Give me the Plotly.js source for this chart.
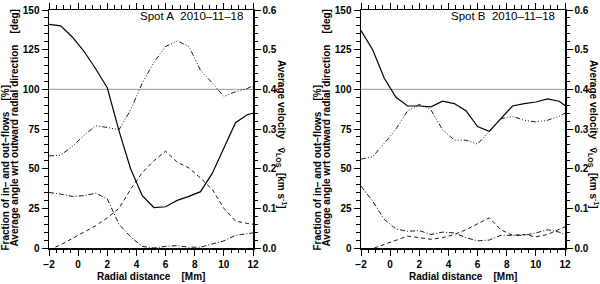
<!DOCTYPE html>
<html>
<head>
<meta charset="utf-8">
<script src="https://cdn.plot.ly/plotly-3.0.1.min.js"></script>
<style>html,body{margin:0;padding:0;background:#fff;}#chart{width:600px;height:284px;}</style>
</head>
<body>
<div id="chart"></div>
<script>
// Radial distance [Mm] sample positions
const radialDistance = [-2, -1.2, -0.4, 0.4, 1.2, 2.0, 2.8, 3.6, 4.4, 5.2, 6.0, 6.8, 7.6, 8.4, 9.2, 10.0, 10.8, 11.6, 12.4];

// Spot A
const angleA   = [141, 140, 133, 124, 113, 101, 74, 50, 33, 25.5, 26, 30, 32.5, 35.5, 47, 63, 79, 84, 86];
const fracOutA = [58, 58.5, 64, 71, 77, 76, 74.5, 87, 104, 117, 127, 130.5, 127, 112, 104, 95.5, 98.5, 100.5, 104];
const fracInA  = [35, 34, 32.5, 33, 34.5, 31, 15, 7, 1, 0, 1, 1.5, 0.5, 0.5, 2.5, 4.5, 8, 9, 10];
const velA     = [-0.005, 0.008, 0.024, 0.04, 0.056, 0.076, 0.10, 0.148, 0.19, 0.22, 0.244, 0.216, 0.202, 0.176, 0.148, 0.10, 0.068, 0.062, 0.058];

// Spot B
const angleB   = [137, 125, 107, 95, 89.5, 89.5, 89, 92.5, 91, 86.5, 76.5, 73.5, 81.5, 89.5, 91, 92, 94, 92.5, 87];
const fracOutB = [56, 57.5, 66, 75, 86.5, 90.5, 87, 74.5, 68, 68, 65.5, 73.5, 81.5, 83, 80.5, 79.5, 80.5, 83, 87];
const fracInB  = [39, 29.5, 18, 12, 10.5, 11, 8.5, 10, 9.5, 6.5, 4.5, 5, 8, 8, 8, 9.5, 11.5, 10, 7];
const velB     = [-0.012, -0.002, 0.008, 0.018, 0.030, 0.026, 0.022, 0.026, 0.034, 0.046, 0.060, 0.076, 0.046, 0.032, 0.034, 0.028, 0.034, 0.046, 0.060];

const panelTitles = ['Spot A\u00a0\u00a02010\u201311\u201318', 'Spot B\u00a0\u00a02010\u201311\u201318'];
const referenceLevel = 100;

const FONT = 'Liberation Sans, Arial, Helvetica, sans-serif';
const W = 600, H = 284;
const px = v => v / W;
const py = v => (H - v) / H;

const DASH_DOT = '5px,2px,1px,2px';
const DASH_3DOT = '5px,2px,1px,2px,1px,2px,1px,2px';
const DASHED = '4px,3px';

function panelTraces(xa, ya, ya2, angle, fOut, fIn, vel) {
  return [
    {x: radialDistance, y: fOut, xaxis: xa, yaxis: ya, mode: 'lines', line: {color: '#000', width: 0.9, dash: DASH_3DOT}},
    {x: radialDistance, y: fIn, xaxis: xa, yaxis: ya, mode: 'lines', line: {color: '#000', width: 0.9, dash: DASH_DOT}},
    {x: radialDistance, y: angle, xaxis: xa, yaxis: ya, mode: 'lines', line: {color: '#000', width: 1.2}},
    {x: radialDistance, y: vel, xaxis: xa, yaxis: ya2, mode: 'lines', line: {color: '#000', width: 0.9, dash: DASHED}}
  ];
}

const data = [].concat(
  panelTraces('x', 'y', 'y2', angleA, fracOutA, fracInA, velA),
  panelTraces('x2', 'y3', 'y4', angleB, fracOutB, fracInB, velB)
);

const tickFont = {family: FONT, size: 10, color: '#000', weight: 'bold'};
const yDomain = [py(248), py(10)];

function xAxis(domain, anchor) {
  return {
    domain: domain, anchor: anchor, range: [-2, 12], tick0: 0, dtick: 2,
    ticks: 'outside', ticklen: 6, tickwidth: 1, tickcolor: '#000',
    minor: {dtick: 0.5, ticks: 'outside', ticklen: 3.5, tickwidth: 1, tickcolor: '#000'},
    showline: true, linecolor: '#000', linewidth: 1.5, mirror: 'ticks',
    showgrid: false, zeroline: false, tickfont: tickFont, fixedrange: true
  };
}
function yAxisLeft(anchor) {
  return {
    domain: yDomain, anchor: anchor, range: [0, 150], tick0: 0, dtick: 25,
    ticks: 'outside', ticklen: 6, tickwidth: 1, tickcolor: '#000',
    minor: {dtick: 5, ticks: 'outside', ticklen: 3.5, tickwidth: 1, tickcolor: '#000'},
    showline: true, linecolor: '#000', linewidth: 1.5,
    showgrid: false, zeroline: false, tickfont: tickFont, fixedrange: true
  };
}
function yAxisRight(anchor, overlay) {
  return {
    overlaying: overlay, side: 'right', anchor: anchor, range: [0, 0.6], tick0: 0, dtick: 0.1,
    tickformat: '.1f',
    ticks: 'outside', ticklen: 6, tickwidth: 1, tickcolor: '#000',
    minor: {dtick: 0.02, ticks: 'outside', ticklen: 3.5, tickwidth: 1, tickcolor: '#000'},
    showline: true, linecolor: '#000', linewidth: 1.5,
    showgrid: false, zeroline: false, tickfont: tickFont, fixedrange: true
  };
}

const titleFont = {family: FONT, size: 10, color: '#000', weight: 'bold'};
const annotations = [];
const panelOffsets = [0, 312];
panelOffsets.forEach((off, i) => {
  annotations.push({xref: 'paper', yref: 'paper', x: px(245 + off), y: py(16), xanchor: 'right', yanchor: 'middle',
    text: panelTitles[i], showarrow: false, font: {family: FONT, size: 11.5, color: '#000'}});
  annotations.push({xref: 'paper', yref: 'paper', x: px(4.5 + off), y: py(253), xanchor: 'center', yanchor: 'bottom', textangle: -90,
    text: 'Fraction of in\u2013 and out\u2013flows\u00a0\u00a0\u00a0\u00a0[%]', showarrow: false, font: titleFont});
  annotations.push({xref: 'paper', yref: 'paper', x: px(14 + off), y: py(249), xanchor: 'center', yanchor: 'bottom', textangle: -90,
    text: 'Average angle wrt outward radial direction\u00a0\u00a0\u00a0\u00a0[deg]', showarrow: false, font: titleFont});
  annotations.push({xref: 'paper', yref: 'paper', x: px(282 + off), y: py(134), xanchor: 'center', yanchor: 'middle', textangle: 90,
    text: 'Average velocity\u00a0\u00a0\u00a0v\u0304<sub>LOS</sub>\u00a0\u00a0[km s<sup>-1</sup>]', showarrow: false, font: titleFont});
  annotations.push({xref: 'paper', yref: 'paper', x: px(151 + off), y: py(276), xanchor: 'center', yanchor: 'middle',
    text: 'Radial distance\u00a0\u00a0\u00a0\u00a0[Mm]', showarrow: false, font: titleFont});
});

const shapes = [
  {type: 'line', xref: 'x domain', yref: 'y', x0: 0, x1: 1, y0: referenceLevel, y1: referenceLevel, line: {color: '#999', width: 1}, layer: 'below'},
  {type: 'line', xref: 'x2 domain', yref: 'y3', x0: 0, x1: 1, y0: referenceLevel, y1: referenceLevel, line: {color: '#999', width: 1}, layer: 'below'}
];

const layout = {
  width: W, height: H, margin: {l: 0, r: 0, t: 0, b: 0},
  paper_bgcolor: '#fff', plot_bgcolor: '#fff', showlegend: false,
  font: {family: FONT, color: '#000'},
  xaxis: xAxis([px(49), px(253)], 'y'),
  yaxis: yAxisLeft('x'),
  yaxis2: yAxisRight('x', 'y'),
  xaxis2: xAxis([px(361), px(565)], 'y3'),
  yaxis3: yAxisLeft('x2'),
  yaxis4: yAxisRight('x2', 'y3'),
  annotations: annotations,
  shapes: shapes
};

Plotly.newPlot('chart', data, layout, {staticPlot: true, displayModeBar: false});
</script>
</body>
</html>
